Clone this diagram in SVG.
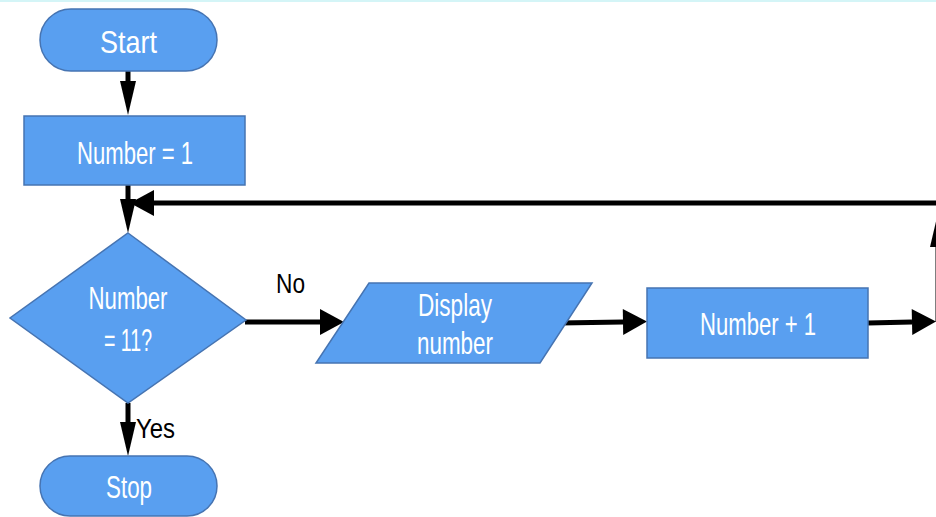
<svg xmlns="http://www.w3.org/2000/svg" width="936" height="517" viewBox="0 0 936 517">
  <style>
    .shape { fill: #599ff0; stroke: #4674b2; stroke-width: 1.5; }
    .label { fill: #ffffff; font-family: "Liberation Sans", Arial, sans-serif; font-size: 32px; text-anchor: middle; }
    .note { fill: #000000; font-family: "Liberation Sans", Arial, sans-serif; font-size: 27px; }
    .wire { fill: none; stroke: #000000; stroke-width: 5; }
  </style>
  <defs>
    <!-- tall head for vertical connectors -->
    <marker id="headV" markerUnits="userSpaceOnUse" markerWidth="36" markerHeight="18" refX="0" refY="8" orient="auto" overflow="visible">
      <path d="M0,0 L34,8 L0,16 Z" fill="#000"/>
    </marker>
    <!-- short, wide head for horizontal connectors -->
    <marker id="headH" markerUnits="userSpaceOnUse" markerWidth="26" markerHeight="28" refX="0" refY="13" orient="auto" overflow="visible">
      <path d="M0,0 L24,13 L0,26 Z" fill="#000"/>
    </marker>
  </defs>

  <rect x="0" y="0" width="936" height="517" fill="#ffffff"/>
  <rect x="0" y="0" width="936" height="2" fill="#d4f5f7"/>

  <g id="connectors">
    <path class="wire" d="M128,71 L128,81" marker-end="url(#headV)"/>
    <path class="wire" d="M128,185 L128,199" marker-end="url(#headV)"/>
    <path class="wire" d="M940,203 L154,203" marker-end="url(#headH)"/>
    <path class="wire" d="M128,403 L128,422" marker-end="url(#headV)"/>
    <path class="wire" d="M245,322 L320,322" marker-end="url(#headH)"/>
    <path class="wire" d="M560,323 L623,322" marker-end="url(#headH)"/>
    <path class="wire" d="M868,323 L912,322" marker-end="url(#headH)"/>
    <path class="wire" d="M938,322 L938,247" marker-end="url(#headV)"/>
    <text class="note" x="276" y="293" textLength="29" lengthAdjust="spacingAndGlyphs">No</text>
    <text class="note" x="136" y="438" textLength="39" lengthAdjust="spacingAndGlyphs">Yes</text>
  </g>

  <g id="start">
    <rect class="shape" x="40" y="9" width="177" height="62" rx="31" ry="31"/>
    <text class="label" x="128.5" y="53" textLength="57" lengthAdjust="spacingAndGlyphs">Start</text>
  </g>

  <g id="init">
    <rect class="shape" x="24" y="116" width="221" height="69"/>
    <text class="label" x="135" y="164" textLength="116" lengthAdjust="spacingAndGlyphs">Number = 1</text>
  </g>

  <g id="check">
    <polygon class="shape" points="128,233 246,320 128,403 10,318"/>
    <text class="label" x="128" y="309" textLength="79" lengthAdjust="spacingAndGlyphs">Number</text>
    <text class="label" x="128" y="351" textLength="48" lengthAdjust="spacingAndGlyphs">= 11?</text>
  </g>

  <g id="display">
    <polygon class="shape" points="369,283 592,283 540,363 316,363"/>
    <text class="label" x="455" y="316" textLength="74" lengthAdjust="spacingAndGlyphs">Display</text>
    <text class="label" x="455" y="354" textLength="76" lengthAdjust="spacingAndGlyphs">number</text>
  </g>

  <g id="increment">
    <rect class="shape" x="647" y="288" width="221" height="70"/>
    <text class="label" x="758" y="335" textLength="116" lengthAdjust="spacingAndGlyphs">Number + 1</text>
  </g>

  <g id="stop">
    <rect class="shape" x="40" y="456" width="177" height="60" rx="30" ry="30"/>
    <text class="label" x="129" y="498" textLength="46" lengthAdjust="spacingAndGlyphs">Stop</text>
  </g>
</svg>
